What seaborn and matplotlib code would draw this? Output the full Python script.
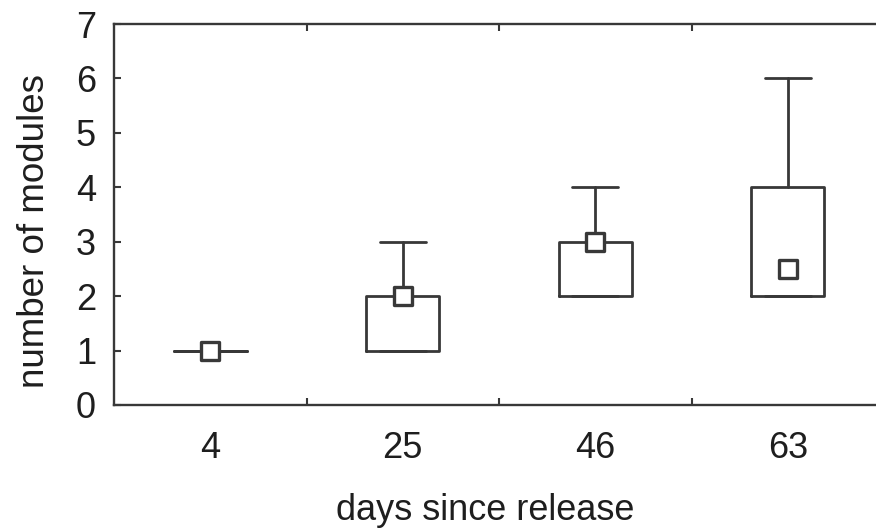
import matplotlib
matplotlib.use("Agg")
import matplotlib.pyplot as plt
import seaborn as sns
import numpy as np

# ---- data ----
days = ["4", "25", "46", "63"]
q1 = [1, 1, 2, 2]
median = [1, 2, 3, 2.5]
q3 = [1, 2, 3, 4]
whisk_lo = [1, 1, 2, 2]
whisk_hi = [1, 3, 4, 6]
y_ticks = [0, 1, 2, 3, 4, 5, 6, 7]

sns.set_style("ticks")
plt.rcParams['font.family'] = ['Liberation Sans', 'DejaVu Sans']

lc = '#383838'
tc = '#1e1e1e'
W, H = 876, 528
fig = plt.figure(figsize=(W / 100, H / 100), dpi=100)
fig.patch.set_facecolor('white')
ax = fig.add_axes([114 / W, (H - 405) / H, 770 / W, 381 / H])

positions = np.arange(len(days))
stats = [dict(label=d, q1=a, med=m, q3=b, whislo=lo, whishi=hi, fliers=[])
         for d, a, m, b, lo, hi in zip(days, q1, median, q3, whisk_lo, whisk_hi)]
ax.bxp(stats, positions=positions, widths=0.38, capwidths=0.24, showfliers=False,
       boxprops=dict(color=lc, lw=2),
       whiskerprops=dict(color=lc, lw=2),
       capprops=dict(color=lc, lw=2),
       medianprops=dict(lw=0))

sns.scatterplot(x=positions, y=median, marker='s', s=185, color='white',
                edgecolor=lc, linewidth=2.4, zorder=5, ax=ax)

ax.set_xlim(-0.5, 3.5)
ax.set_ylim(0, 7)
ax.set_xticks(positions)
ax.set_xticklabels(days)
ax.set_xticks([0.5, 1.5, 2.5], minor=True)
ax.set_yticks(y_ticks)
ax.tick_params(axis='x', which='major', length=0, pad=19, labelsize=26, labelcolor=tc)
ax.tick_params(axis='x', which='minor', direction='in', length=5, width=1.5,
               top=True, bottom=True, color=lc)
ax.tick_params(axis='y', direction='in', length=5, width=1.5, pad=13,
               labelsize=26, labelcolor=tc, color=lc)
for sp in ax.spines.values():
    sp.set_visible(True)
    sp.set_linewidth(1.7)
    sp.set_color(lc)

ax.set_xlabel("days since release", fontsize=26, color=tc, labelpad=19)
ax.set_ylabel("number of modules", fontsize=26.5, color=tc, labelpad=17)
ax.xaxis.label.set_x(0.4825)
ax.yaxis.label.set_y(0.457)
ax.grid(False)

fig.savefig("out.png", dpi=100, facecolor='white')
